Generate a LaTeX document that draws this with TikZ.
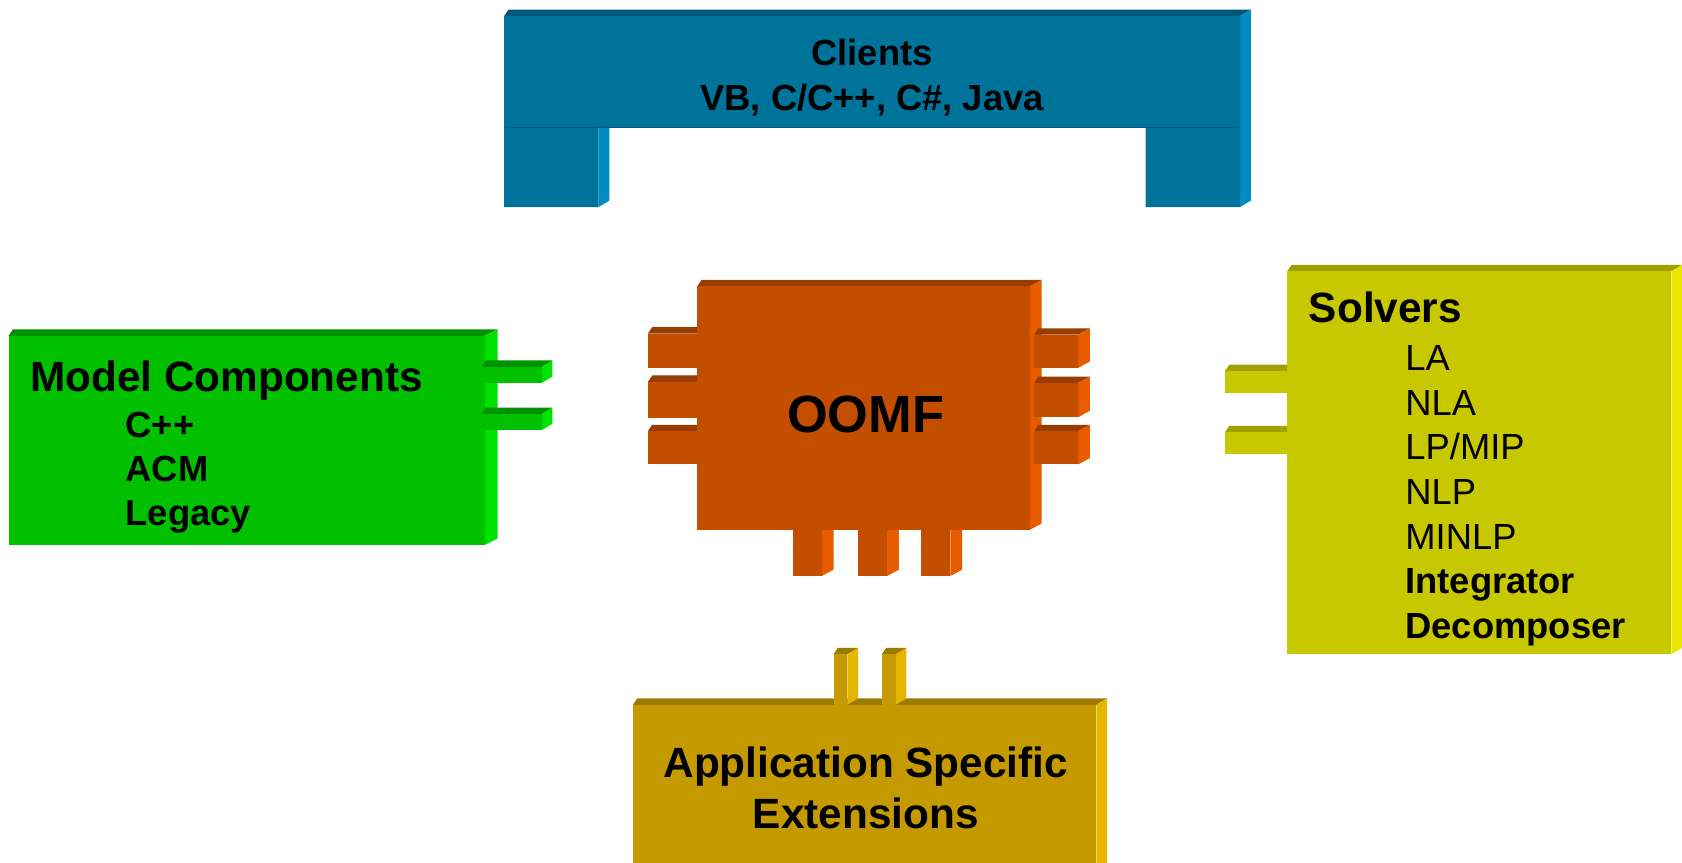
\documentclass[tikz,border=0pt]{standalone}
\usepackage{fontspec}
\setmainfont{Liberation Sans}
% front face, top bevel and right side of one solid block
% #1,#2 front top left  #3,#4 front bottom right  #5 side width  #6 colour prefix
\newcommand{\cuboid}[6]{%
  \fill[#6top] (#1,#2) -- ({#1+4},{#2-6}) -- ({#3+#5},{#2-6}) -- (#3,#2) -- cycle;
  \fill[#6side] (#3,#2) -- ({#3+#5},{#2-6}) -- ({#3+#5},{#4-6}) -- (#3,#4) -- cycle;
  \fill[#6front] (#1,#2) rectangle (#3,#4);
}
\begin{document}
\begin{tikzpicture}[x=1bp,y=-1bp,
  heading/.style={inner sep=0pt,font=\fontsize{39.6}{46}\selectfont\bfseries},
  item/.style={inner sep=0pt,font=\fontsize{34}{41}\selectfont},
  bolditem/.style={inner sep=0pt,font=\fontsize{34}{41}\selectfont\bfseries}]
\useasboundingbox (0,0) rectangle (1568,804);
\clip (0,0) rectangle (1568,804);
%%
  % Block: Clients
\begin{scope}
  \definecolor{clifront}{RGB}{0,115,155}
  \definecolor{clitop}{RGB}{0,88,120}
  \definecolor{cliside}{RGB}{0,140,192}
  \fill[clitop] (470,15) -- (474,9) -- (1166,9) -- (1156,15) -- cycle;
  \fill[cliside] (1156,15) -- (1166,9) -- (1166,187) -- (1156,193) -- cycle;
  \fill[clifront] (470,15) -- (1156,15) -- (1156,193) -- (1068,193) -- (1068,119)
    -- (558,119) -- (558,193) -- (470,193) -- cycle;
  \fill[cliside] (558,119) -- (568,119) -- (568,187) -- (558,193) -- cycle;
  \draw[clitop,line width=1bp] (470,119) -- (1156,119);
  \node[bolditem,anchor=base] (clients) at (813,61) {Clients};
  \node[bolditem,anchor=base] (languages) at (813,103) {VB, C/C++, C\#, Java};
\end{scope}
  % Block: Model Components
\begin{scope}
  \definecolor{modfront}{RGB}{0,192,0}
  \definecolor{modtop}{RGB}{0,145,0}
  \definecolor{modside}{RGB}{0,226,0}
  \cuboid{8}{313}{452}{508}{12}{mod}
  \cuboid{449}{342}{505}{357}{10}{mod}
  \cuboid{449}{386}{505}{401}{10}{mod}
  \node[heading,anchor=base west] (model) at (28,365) {Model Components};
  \node[bolditem,anchor=base west] (cpp) at (117,408) {C++};
  \node[bolditem,anchor=base west] (acm) at (117,449) {ACM};
  \node[bolditem,anchor=base west] (legacy) at (117,490) {Legacy};
\end{scope}
  % Block: OOMF
\begin{scope}
  \definecolor{oomfront}{RGB}{196,78,0}
  \definecolor{oomtop}{RGB}{152,60,0}
  \definecolor{oomside}{RGB}{232,92,0}
  \cuboid{604}{311}{650}{343}{0}{oom}
  \cuboid{604}{356}{650}{390}{0}{oom}
  \cuboid{604}{402}{650}{433}{0}{oom}
  \cuboid{739}{494}{766}{537}{11}{oom}
  \cuboid{800}{494}{827}{537}{11}{oom}
  \cuboid{859}{494}{886}{537}{11}{oom}
  \cuboid{650}{267}{960}{494}{11}{oom}
  \cuboid{964}{312}{1005}{343}{11}{oom}
  \cuboid{964}{357}{1005}{389}{11}{oom}
  \cuboid{964}{402}{1005}{433}{11}{oom}
  \node[inner sep=0pt,font=\fontsize{49}{58}\selectfont\bfseries,anchor=base] (oomf) at (807,403) {OOMF};
\end{scope}
  % Block: Solvers
\begin{scope}
  \definecolor{solfront}{RGB}{200,200,0}
  \definecolor{soltop}{RGB}{160,160,0}
  \definecolor{solside}{RGB}{232,232,0}
  \cuboid{1142}{346}{1200}{366}{0}{sol}
  \cuboid{1142}{403}{1200}{423}{0}{sol}
  \cuboid{1200}{253}{1558}{610}{10}{sol}
  \node[heading,anchor=base west] (solvers) at (1220,301) {Solvers};
  \node[item,anchor=base west] (la) at (1310,345) {LA};
  \node[item,anchor=base west] (nla) at (1310,387) {NLA};
  \node[item,anchor=base west] (lpmip) at (1310,428) {LP/MIP};
  \node[item,anchor=base west] (nlp) at (1310,470) {NLP};
  \node[item,anchor=base west] (minlp) at (1310,512) {MINLP};
  \node[bolditem,anchor=base west] (integrator) at (1310,553) {Integrator};
  \node[bolditem,anchor=base west] (decomposer) at (1310,595) {Decomposer};
\end{scope}
  % Block: Application Specific Extensions
\begin{scope}
  \definecolor{appfront}{RGB}{196,154,0}
  \definecolor{apptop}{RGB}{156,122,0}
  \definecolor{appside}{RGB}{228,182,0}
  \cuboid{590}{657}{1022}{820}{10}{app}
  \cuboid{777}{610}{790}{657}{10}{app}
  \cuboid{822}{610}{835}{657}{10}{app}
  \node[heading,anchor=base] (application) at (807,725) {Application Specific};
  \node[heading,anchor=base] (extensions) at (807,772) {Extensions};
\end{scope}
%
\end{tikzpicture}
\end{document}
